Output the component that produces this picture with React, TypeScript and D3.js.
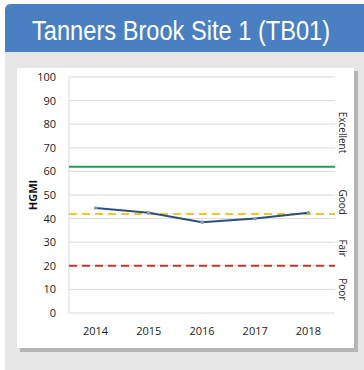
import React from "react";
import * as d3 from "d3";

const years = ["2014", "2015", "2016", "2017", "2018"];
const hgmi = [44.5, 42.5, 38.5, 40, 42.5];
const yTicks = [0, 10, 20, 30, 40, 50, 60, 70, 80, 90, 100];
const thresholds = [
  { value: 62, color: "#1e9e5a", dash: "" },
  { value: 42, color: "#f2c81e", dash: "8,5" },
  { value: 20, color: "#c0392b", dash: "8,5" },
];
const zones = [
  { label: "Excellent", value: 76.5 },
  { label: "Good", value: 47 },
  { label: "Fair", value: 27.5 },
  { label: "Poor", value: 10 },
];
const title = "Tanners Brook Site 1 (TB01)";

export default function App() {
  const W = 364, H = 370;
  const left = 69, right = 335, top = 77, bottom = 313;
  const x = d3.scaleBand().domain(years).range([left, right]);
  const y = d3.scaleLinear().domain([0, 100]).range([bottom, top]);
  const cx = (d: string) => (x(d) as number) + x.bandwidth() / 2;
  const line = d3.line<number>().x((_, i) => cx(years[i])).y((d) => y(d));
  const tickFont = "'Open Sans', 'Liberation Sans', sans-serif";
  return (
    <svg width={W} height={H} style={{ position: "absolute", left: 0, top: 0 }}>
      <rect x={0} y={0} width={W} height={H} fill="#fff" />
      <rect x={5} y={50} width={362} height={322} fill="#e6e6e6" />
      <path d="M5,52 V10 Q5,4 11,4 H366 V52 Z" fill="#4a7fc2" />
      <text transform="translate(32,40) scale(0.86,1)" x={0} y={0} fill="#fff" fontSize={27.5} fontFamily="'Liberation Sans', Arial, sans-serif">{title}</text>
      <rect x={20} y={71} width={338} height={281} fill="#b5b5b5" />
      <rect x={17} y={68} width={337} height={280} fill="#fff" />
      {yTicks.map((t) => (
        <g key={t}>
          {t > 0 && <line x1={left} x2={right} y1={y(t)} y2={y(t)} stroke="#d9d9d9" strokeWidth={1} />}
          <text x={56} y={y(t) + 4} textAnchor="end" fontSize={11} fill="#222" fontFamily={tickFont}>{t}</text>
        </g>
      ))}
      <line x1={left} x2={left} y1={top} y2={bottom} stroke="#d9d9d9" />
      <line x1={left} x2={right} y1={bottom} y2={bottom} stroke="#d9d9d9" />
      {years.map((yr) => (
        <text key={yr} x={cx(yr)} y={335} textAnchor="middle" fontSize={11} fill="#222" fontFamily={tickFont}>{yr}</text>
      ))}
      <text transform={`translate(37,${y(50)}) rotate(-90)`} textAnchor="middle" fontSize={11} fontWeight="bold" fill="#111" fontFamily={tickFont}>HGMI</text>
      {thresholds.map((t) => (
        <line key={t.value} x1={left} x2={right} y1={y(t.value)} y2={y(t.value)} stroke={t.color} strokeWidth={2} strokeDasharray={t.dash || undefined} />
      ))}
      <path d={line(hgmi) || ""} fill="none" stroke="#2e4e7e" strokeWidth={2} />
      {hgmi.map((v, i) => (
        <circle key={i} cx={cx(years[i])} cy={y(v)} r={1.8} fill="#8a9bb5" />
      ))}
      {zones.map((z) => (
        <text key={z.label} transform={`translate(339,${y(z.value)}) rotate(90)`} textAnchor="middle" fontSize={10} fill="#222" fontFamily={tickFont}>{z.label}</text>
      ))}
    </svg>
  );
}
